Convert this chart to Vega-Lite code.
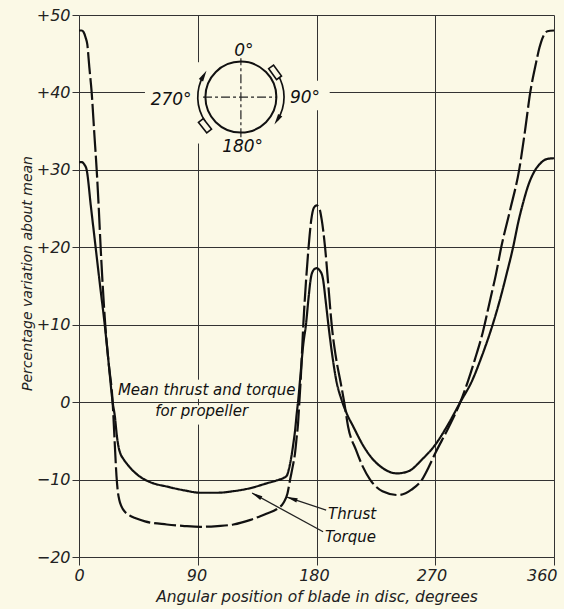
{
  "$schema": "https://vega.github.io/schema/vega-lite/v6.json",
  "width": 475,
  "height": 542,
  "autosize": {"type": "none"},
  "padding": {"left": 79, "top": 15, "right": 10, "bottom": 52},
  "background": "#FBF9E6",
  "config": {"view": {"stroke": null}, "font": "DejaVu Sans"},
  "datasets": {
    "curves": [
      {"deg": 0, "pct": 48, "series": "Thrust"},
      {"deg": 2, "pct": 48, "series": "Thrust"},
      {"deg": 3.5, "pct": 47.8, "series": "Thrust"},
      {"deg": 5, "pct": 47.1, "series": "Thrust"},
      {"deg": 6.3, "pct": 46.2, "series": "Thrust"},
      {"deg": 7.8, "pct": 43.3, "series": "Thrust"},
      {"deg": 9.6, "pct": 40, "series": "Thrust"},
      {"deg": 11.6, "pct": 34.7, "series": "Thrust"},
      {"deg": 13.4, "pct": 30, "series": "Thrust"},
      {"deg": 15, "pct": 25, "series": "Thrust"},
      {"deg": 16.4, "pct": 20, "series": "Thrust"},
      {"deg": 18, "pct": 15, "series": "Thrust"},
      {"deg": 19.9, "pct": 10, "series": "Thrust"},
      {"deg": 22.5, "pct": 5, "series": "Thrust"},
      {"deg": 25.5, "pct": 0, "series": "Thrust"},
      {"deg": 27, "pct": -5, "series": "Thrust"},
      {"deg": 28.4, "pct": -9.5, "series": "Thrust"},
      {"deg": 29.4, "pct": -11.5, "series": "Thrust"},
      {"deg": 30.5, "pct": -12.6, "series": "Thrust"},
      {"deg": 32, "pct": -13.4, "series": "Thrust"},
      {"deg": 34.5, "pct": -14.1, "series": "Thrust"},
      {"deg": 38, "pct": -14.6, "series": "Thrust"},
      {"deg": 43, "pct": -15, "series": "Thrust"},
      {"deg": 50, "pct": -15.4, "series": "Thrust"},
      {"deg": 66.5, "pct": -15.8, "series": "Thrust"},
      {"deg": 80, "pct": -16, "series": "Thrust"},
      {"deg": 92, "pct": -16.1, "series": "Thrust"},
      {"deg": 105, "pct": -16, "series": "Thrust"},
      {"deg": 117, "pct": -15.8, "series": "Thrust"},
      {"deg": 130, "pct": -15.2, "series": "Thrust"},
      {"deg": 142, "pct": -14.4, "series": "Thrust"},
      {"deg": 150, "pct": -13.8, "series": "Thrust"},
      {"deg": 155, "pct": -13, "series": "Thrust"},
      {"deg": 158, "pct": -11.8, "series": "Thrust"},
      {"deg": 160, "pct": -10, "series": "Thrust"},
      {"deg": 162, "pct": -8.3, "series": "Thrust"},
      {"deg": 163.8, "pct": -6.5, "series": "Thrust"},
      {"deg": 165, "pct": -4.5, "series": "Thrust"},
      {"deg": 166, "pct": -2.8, "series": "Thrust"},
      {"deg": 167, "pct": 0, "series": "Thrust"},
      {"deg": 168, "pct": 2.8, "series": "Thrust"},
      {"deg": 170, "pct": 10, "series": "Thrust"},
      {"deg": 172, "pct": 15.5, "series": "Thrust"},
      {"deg": 174, "pct": 20, "series": "Thrust"},
      {"deg": 176, "pct": 23.5, "series": "Thrust"},
      {"deg": 178, "pct": 25.1, "series": "Thrust"},
      {"deg": 180, "pct": 25.4, "series": "Thrust"},
      {"deg": 182, "pct": 25.1, "series": "Thrust"},
      {"deg": 184, "pct": 23.5, "series": "Thrust"},
      {"deg": 186.5, "pct": 20, "series": "Thrust"},
      {"deg": 189, "pct": 15, "series": "Thrust"},
      {"deg": 191.5, "pct": 10, "series": "Thrust"},
      {"deg": 195, "pct": 5.5, "series": "Thrust"},
      {"deg": 198, "pct": 2.8, "series": "Thrust"},
      {"deg": 201, "pct": 0, "series": "Thrust"},
      {"deg": 204, "pct": -3.2, "series": "Thrust"},
      {"deg": 210, "pct": -6.2, "series": "Thrust"},
      {"deg": 215, "pct": -8.3, "series": "Thrust"},
      {"deg": 220.6, "pct": -10, "series": "Thrust"},
      {"deg": 230, "pct": -11.5, "series": "Thrust"},
      {"deg": 242, "pct": -12, "series": "Thrust"},
      {"deg": 252, "pct": -11.3, "series": "Thrust"},
      {"deg": 260, "pct": -10, "series": "Thrust"},
      {"deg": 265, "pct": -8.4, "series": "Thrust"},
      {"deg": 270, "pct": -6.6, "series": "Thrust"},
      {"deg": 280, "pct": -3.3, "series": "Thrust"},
      {"deg": 289, "pct": 0, "series": "Thrust"},
      {"deg": 295, "pct": 2.8, "series": "Thrust"},
      {"deg": 300, "pct": 5.5, "series": "Thrust"},
      {"deg": 306, "pct": 9, "series": "Thrust"},
      {"deg": 311.6, "pct": 13.2, "series": "Thrust"},
      {"deg": 316, "pct": 16.5, "series": "Thrust"},
      {"deg": 320, "pct": 20, "series": "Thrust"},
      {"deg": 327, "pct": 25, "series": "Thrust"},
      {"deg": 333.6, "pct": 30, "series": "Thrust"},
      {"deg": 338, "pct": 35, "series": "Thrust"},
      {"deg": 342, "pct": 40, "series": "Thrust"},
      {"deg": 346, "pct": 43.5, "series": "Thrust"},
      {"deg": 349, "pct": 45.8, "series": "Thrust"},
      {"deg": 352, "pct": 47.3, "series": "Thrust"},
      {"deg": 355, "pct": 47.9, "series": "Thrust"},
      {"deg": 360, "pct": 48, "series": "Thrust"},
      {"deg": 0, "pct": 31, "series": "Torque"},
      {"deg": 2, "pct": 31, "series": "Torque"},
      {"deg": 4, "pct": 30.7, "series": "Torque"},
      {"deg": 5.8, "pct": 30, "series": "Torque"},
      {"deg": 9, "pct": 25.3, "series": "Torque"},
      {"deg": 12.6, "pct": 20, "series": "Torque"},
      {"deg": 16, "pct": 15, "series": "Torque"},
      {"deg": 19.5, "pct": 10, "series": "Torque"},
      {"deg": 22.5, "pct": 5, "series": "Torque"},
      {"deg": 25.5, "pct": 0, "series": "Torque"},
      {"deg": 27.3, "pct": -2, "series": "Torque"},
      {"deg": 28.6, "pct": -4.2, "series": "Torque"},
      {"deg": 30, "pct": -5.8, "series": "Torque"},
      {"deg": 31.5, "pct": -6.7, "series": "Torque"},
      {"deg": 33.5, "pct": -7.3, "series": "Torque"},
      {"deg": 36.5, "pct": -8, "series": "Torque"},
      {"deg": 40, "pct": -8.7, "series": "Torque"},
      {"deg": 46, "pct": -9.6, "series": "Torque"},
      {"deg": 55, "pct": -10.4, "series": "Torque"},
      {"deg": 66.5, "pct": -10.9, "series": "Torque"},
      {"deg": 80, "pct": -11.4, "series": "Torque"},
      {"deg": 91.7, "pct": -11.7, "series": "Torque"},
      {"deg": 105, "pct": -11.7, "series": "Torque"},
      {"deg": 117, "pct": -11.5, "series": "Torque"},
      {"deg": 130, "pct": -11.1, "series": "Torque"},
      {"deg": 142, "pct": -10.5, "series": "Torque"},
      {"deg": 150, "pct": -10.1, "series": "Torque"},
      {"deg": 155, "pct": -9.8, "series": "Torque"},
      {"deg": 157.5, "pct": -9.5, "series": "Torque"},
      {"deg": 159, "pct": -8.7, "series": "Torque"},
      {"deg": 161, "pct": -7, "series": "Torque"},
      {"deg": 162.5, "pct": -5.3, "series": "Torque"},
      {"deg": 163.8, "pct": -3.6, "series": "Torque"},
      {"deg": 165, "pct": -1.5, "series": "Torque"},
      {"deg": 166, "pct": 0, "series": "Torque"},
      {"deg": 167.5, "pct": 2.8, "series": "Torque"},
      {"deg": 170, "pct": 7.5, "series": "Torque"},
      {"deg": 172, "pct": 10, "series": "Torque"},
      {"deg": 174, "pct": 13.5, "series": "Torque"},
      {"deg": 175.7, "pct": 16, "series": "Torque"},
      {"deg": 177.5, "pct": 17, "series": "Torque"},
      {"deg": 180, "pct": 17.3, "series": "Torque"},
      {"deg": 182.5, "pct": 17, "series": "Torque"},
      {"deg": 184.8, "pct": 16, "series": "Torque"},
      {"deg": 187, "pct": 13, "series": "Torque"},
      {"deg": 189, "pct": 10, "series": "Torque"},
      {"deg": 192, "pct": 6, "series": "Torque"},
      {"deg": 195, "pct": 2.8, "series": "Torque"},
      {"deg": 199, "pct": 0.3, "series": "Torque"},
      {"deg": 203, "pct": -1.5, "series": "Torque"},
      {"deg": 208, "pct": -3.2, "series": "Torque"},
      {"deg": 215, "pct": -5.5, "series": "Torque"},
      {"deg": 220, "pct": -6.8, "series": "Torque"},
      {"deg": 230, "pct": -8.5, "series": "Torque"},
      {"deg": 241, "pct": -9.2, "series": "Torque"},
      {"deg": 250, "pct": -8.9, "series": "Torque"},
      {"deg": 260, "pct": -7.4, "series": "Torque"},
      {"deg": 270, "pct": -5.5, "series": "Torque"},
      {"deg": 280, "pct": -2.8, "series": "Torque"},
      {"deg": 289, "pct": 0, "series": "Torque"},
      {"deg": 298, "pct": 2.8, "series": "Torque"},
      {"deg": 305, "pct": 5.8, "series": "Torque"},
      {"deg": 312, "pct": 9.2, "series": "Torque"},
      {"deg": 319, "pct": 13.2, "series": "Torque"},
      {"deg": 324, "pct": 16.5, "series": "Torque"},
      {"deg": 329, "pct": 20, "series": "Torque"},
      {"deg": 333, "pct": 23.3, "series": "Torque"},
      {"deg": 337, "pct": 26, "series": "Torque"},
      {"deg": 340.5, "pct": 28, "series": "Torque"},
      {"deg": 344.5, "pct": 29.6, "series": "Torque"},
      {"deg": 349.5, "pct": 30.8, "series": "Torque"},
      {"deg": 354.6, "pct": 31.4, "series": "Torque"},
      {"deg": 360, "pct": 31.5, "series": "Torque"}
    ],
    "masks": [
      {"deg": 50, "deg2": 190, "pct": 37.7, "pct2": 41.5},
      {"deg": 86, "deg2": 94, "pct": 33.4, "pct2": 43.9},
      {"deg": 86, "deg2": 94, "pct": 0.4, "pct2": 2.9},
      {"deg": 86, "deg2": 94, "pct": -0.4, "pct2": -2.9}
    ],
    "crosshair": [
      {"deg": 122.7, "pct": 34.2, "deg2": 122.7, "pct2": 44.4},
      {"deg": 94, "pct": 39.4, "deg2": 150, "pct2": 39.4}
    ],
    "hub": [{"deg": 122.7, "pct": 39.4}],
    "arcHeadLeft": [{"deg": 94.5, "pct": 42.2}],
    "arcHeadRight": [{"deg": 150.3, "pct": 36.45}],
    "bladeTop": [{"deg": 148.6, "pct": 42.6}],
    "bladeBottom": [{"deg": 95.5, "pct": 35.7}],
    "diagramLabels": [
      {"deg": 125, "pct": 45.3, "label": "0°"},
      {"deg": 171.3, "pct": 39.3, "label": "90°"},
      {"deg": 69.8, "pct": 39.0, "label": "270°"},
      {"deg": 124, "pct": 32.9, "label": "180°"}
    ],
    "meanNote": [
      {"deg": 96.8, "pct": 1.55, "label": "Mean thrust and torque"},
      {"deg": 93, "pct": -1.16, "label": "for propeller"}
    ],
    "seriesNotes": [
      {"deg": 188.8, "pct": -14.45, "label": "Thrust"},
      {"deg": 186.5, "pct": -17.4, "label": "Torque"}
    ],
    "leaders": [
      {"deg": 187.3, "pct": -13.94, "deg2": 157.7, "pct2": -12.26},
      {"deg": 185, "pct": -16.74, "deg2": 131.2, "pct2": -11.74}
    ],
    "thrustHead": [{"deg": 161.3, "pct": -12.46}],
    "torqueHead": [{"deg": 134.5, "pct": -12.05}]
  },
  "encoding": {
    "x": {
      "field": "deg",
      "type": "quantitative",
      "scale": {"domain": [0, 360], "nice": false, "zero": false},
      "axis": {
        "values": [0, 90, 180, 270, 360],
        "title": "Angular position of blade in disc, degrees",
        "grid": true,
        "gridColor": "#333333",
        "gridWidth": 1,
        "domainColor": "#333333",
        "domainWidth": 1.2,
        "tickColor": "#333333",
        "tickSize": 8,
        "tickWidth": 1,
        "labelFont": "DejaVu Sans",
        "labelFontStyle": "italic",
        "labelFontSize": 16,
        "labelColor": "#222222",
        "labelPadding": 2,
        "labelFlush": false,
        "labelOverlap": false,
        "labelAlign": {"expr": "datum.value == 360 ? 'right' : 'center'"},
        "labelOffset": {"expr": "datum.value == 360 ? 3 : -datum.value / 70"},
        "titleFont": "DejaVu Sans",
        "titleFontStyle": "italic",
        "titleFontWeight": "normal",
        "titleFontSize": 15.5,
        "titleColor": "#222222",
        "titlePadding": 6
      }
    },
    "y": {
      "field": "pct",
      "type": "quantitative",
      "scale": {"domain": [-20, 50], "nice": false, "zero": false},
      "axis": {
        "values": [-20, -10, 0, 10, 20, 30, 40, 50],
        "labelExpr": "datum.value > 0 ? '+' + datum.value : (datum.value < 0 ? '−' + abs(datum.value) : '0')",
        "title": "Percentage variation about mean",
        "grid": true,
        "gridColor": "#333333",
        "gridWidth": 1,
        "domain": false,
        "tickColor": "#333333",
        "tickSize": 7,
        "tickWidth": 1,
        "labelFont": "DejaVu Sans",
        "labelFontStyle": "italic",
        "labelFontSize": 16,
        "labelColor": "#222222",
        "labelPadding": 2,
        "labelOverlap": false,
        "titleFont": "DejaVu Sans",
        "titleFontStyle": "italic",
        "titleFontWeight": "normal",
        "titleFontSize": 14,
        "titleColor": "#222222",
        "titlePadding": 2,
        "titleY": 258
      }
    }
  },
  "layer": [
    {
      "data": {"name": "masks"},
      "mark": {"type": "rect", "fill": "#FBF9E6", "strokeWidth": 0},
      "encoding": {"x2": {"field": "deg2"}, "y2": {"field": "pct2"}}
    },
    {
      "data": {"name": "crosshair"},
      "mark": {"type": "rule", "color": "#222222", "strokeWidth": 1.2, "strokeDash": [9, 3, 3, 3]},
      "encoding": {"x2": {"field": "deg2"}, "y2": {"field": "pct2"}}
    },
    {
      "data": {"name": "hub"},
      "mark": {"type": "point", "shape": "circle", "size": 5041, "filled": false, "stroke": "#111111", "strokeWidth": 2, "opacity": 1}
    },
    {
      "data": {"name": "hub"},
      "mark": {"type": "arc", "radius": 44, "radius2": 42.3, "theta": 4.12, "theta2": 5.24, "fill": "#111111"}
    },
    {
      "data": {"name": "hub"},
      "mark": {"type": "arc", "radius": 44, "radius2": 42.3, "theta": 1.01, "theta2": 2.13, "fill": "#111111"}
    },
    {
      "data": {"name": "arcHeadLeft"},
      "mark": {"type": "point", "shape": "M0,-1L0.45,1L-0.45,1Z", "size": 121, "angle": 30, "filled": true, "fill": "#111111", "strokeWidth": 0, "opacity": 1}
    },
    {
      "data": {"name": "arcHeadRight"},
      "mark": {"type": "point", "shape": "M0,-1L0.45,1L-0.45,1Z", "size": 121, "angle": 212, "filled": true, "fill": "#111111", "strokeWidth": 0, "opacity": 1}
    },
    {
      "data": {"name": "bladeTop"},
      "mark": {"type": "point", "shape": "M-0.45,-1L0.45,-1L0.45,1L-0.45,1Z", "size": 182, "angle": 144, "filled": true, "fill": "#FBF9E6", "stroke": "#111111", "strokeWidth": 1.6, "opacity": 1}
    },
    {
      "data": {"name": "bladeBottom"},
      "mark": {"type": "point", "shape": "M-0.45,-1L0.45,-1L0.45,1L-0.45,1Z", "size": 182, "angle": 322, "filled": true, "fill": "#FBF9E6", "stroke": "#111111", "strokeWidth": 1.6, "opacity": 1}
    },
    {
      "data": {"name": "diagramLabels"},
      "mark": {"type": "text", "font": "DejaVu Sans", "fontStyle": "italic", "fontSize": 17, "color": "#111111", "align": "center", "baseline": "middle"},
      "encoding": {"text": {"field": "label"}}
    },
    {
      "data": {"name": "curves"},
      "mark": {"type": "line", "interpolate": "monotone", "strokeWidth": 2.2, "color": "#111111"},
      "encoding": {
        "strokeDash": {
          "field": "series",
          "type": "nominal",
          "scale": {"domain": ["Thrust", "Torque"], "range": [[22, 4], [1, 0]]},
          "legend": null
        }
      }
    },
    {
      "data": {"name": "leaders"},
      "mark": {"type": "rule", "color": "#222222", "strokeWidth": 1.3},
      "encoding": {"x2": {"field": "deg2"}, "y2": {"field": "pct2"}}
    },
    {
      "data": {"name": "thrustHead"},
      "mark": {"type": "point", "shape": "M0,-1L0.4,1L-0.4,1Z", "size": 121, "angle": 288.4, "filled": true, "fill": "#111111", "strokeWidth": 0, "opacity": 1}
    },
    {
      "data": {"name": "torqueHead"},
      "mark": {"type": "point", "shape": "M0,-1L0.4,1L-0.4,1Z", "size": 121, "angle": 298.8, "filled": true, "fill": "#111111", "strokeWidth": 0, "opacity": 1}
    },
    {
      "data": {"name": "meanNote"},
      "mark": {"type": "text", "font": "DejaVu Sans", "fontStyle": "italic", "fontSize": 15, "color": "#111111", "align": "center", "baseline": "middle"},
      "encoding": {"text": {"field": "label"}}
    },
    {
      "data": {"name": "seriesNotes"},
      "mark": {"type": "text", "font": "DejaVu Sans", "fontStyle": "italic", "fontSize": 15, "color": "#111111", "align": "left", "baseline": "middle"},
      "encoding": {"text": {"field": "label"}}
    }
  ]
}
